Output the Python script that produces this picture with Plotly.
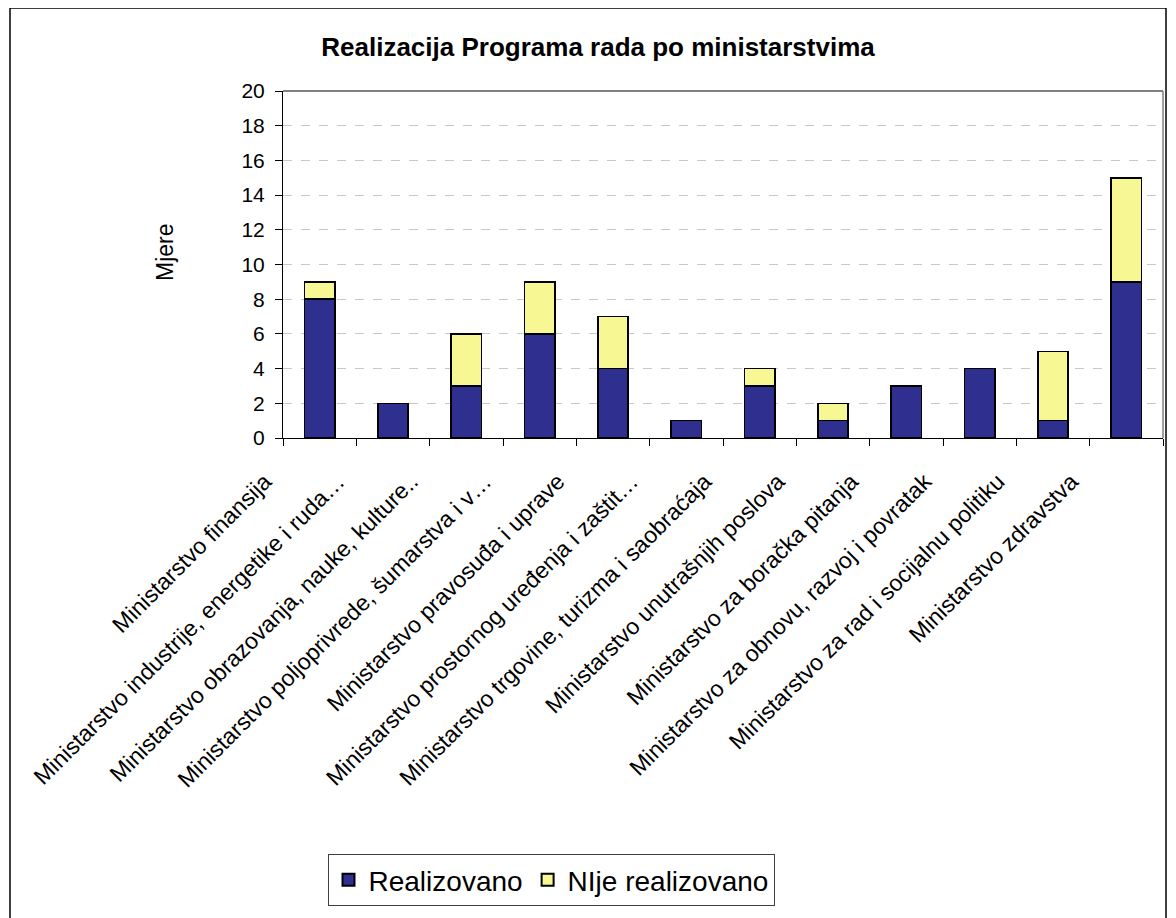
import plotly.graph_objects as go

categories = [
    "Ministarstvo finansija",
    "Ministarstvo industrije, energetike i ruda…",
    "Ministarstvo obrazovanja, nauke, kulture..",
    "Ministarstvo poljoprivrede, šumarstva i v…",
    "Ministarstvo pravosuđa i uprave",
    "Ministarstvo prostornog uređenja i zaštit…",
    "Ministarstvo trgovine, turizma i saobraćaja",
    "Ministarstvo unutrašnjih poslova",
    "Ministarstvo za boračka pitanja",
    "Ministarstvo za obnovu, razvoj i povratak",
    "Ministarstvo za rad i socijalnu politiku",
    "Ministarstvo zdravstva",
]
realizovano = [8, 2, 3, 6, 4, 1, 3, 1, 3, 4, 1, 9]
nije_realizovano = [1, 0, 3, 3, 3, 0, 1, 1, 0, 0, 4, 6]
y_ticks = [0, 2, 4, 6, 8, 10, 12, 14, 16, 18, 20]

# the page body adds an 8px margin, so figure coords = screen coords - 8
OFF = 8
W, H = 1168, 910
L, T = 283 - OFF, 91 - OFF
pw, ph = 880, 347
R = W - L - pw
B = H - T - ph


def px(xs):
    return (xs - OFF - L) / pw


def py(ys):
    return (H - B - (ys - OFF)) / ph


fig = go.Figure()
fig.add_trace(go.Bar(
    x=categories, y=realizovano, name="Realizovano",
    marker=dict(color="#2F2F90", line=dict(color="black", width=1.5)),
))
fig.add_trace(go.Bar(
    x=categories, y=nije_realizovano, name="NIje realizovano",
    marker=dict(color="#F7F794", line=dict(color="black", width=1.5)),
))

fig.update_layout(
    barmode="stack",
    bargap=0.585,
    width=W, height=H,
    margin=dict(l=L, r=R, t=T, b=B, autoexpand=False),
    paper_bgcolor="white", plot_bgcolor="white",
    font=dict(family="Liberation Sans, Arial", color="black"),
    title=dict(text="<b>Realizacija Programa rada po ministarstvima</b>",
               x=px(598), xanchor="center", xref="paper",
               y=1 - (47 - OFF) / H, yanchor="middle", font=dict(size=26)),
    showlegend=True,
    legend=dict(orientation="h", x=px(551), xanchor="center",
                y=py(880), yanchor="middle",
                font=dict(size=28), bordercolor="#404040", borderwidth=1,
                bgcolor="white", traceorder="normal",
                itemsizing="constant"),
    xaxis=dict(
        type="category", tickangle=-45, tickfont=dict(size=23),
        showline=True, linecolor="black", linewidth=1,
        ticks="outside", ticklen=7, tickcolor="black", tickson="boundaries",
        ticklabelshift=-55, ticklabelstandoff=20,
        showgrid=False, mirror=False,
    ),
    yaxis=dict(
        range=[0, 20], tickvals=y_ticks, tickfont=dict(size=21),
        showline=True, linecolor="black", linewidth=1,
        ticks="outside", ticklen=7, tickcolor="black",
        ticklabelstandoff=6,
        showgrid=True, gridcolor="#C8C8C8", griddash="dash", gridwidth=1,
        zeroline=False,
    ),
)

# y-axis title
fig.add_annotation(text="Mjere", xref="paper", yref="paper",
                   x=px(165), y=py(252), xanchor="center", yanchor="middle",
                   textangle=-90, showarrow=False, font=dict(size=23))

# plot-area top/right border
fig.add_shape(type="line", xref="paper", yref="paper", x0=0, x1=1, y0=1, y1=1,
              line=dict(color="#808080", width=2))
fig.add_shape(type="line", xref="paper", yref="paper", x0=1, x1=1, y0=0, y1=1,
              line=dict(color="#808080", width=1.5))
# outer chart border
fig.add_shape(type="rect", xref="paper", yref="paper",
              x0=px(10), x1=px(1166), y0=py(8), y1=py(935),
              line=dict(color="black", width=1.5), layer="below")

fig.write_html("out.html")
